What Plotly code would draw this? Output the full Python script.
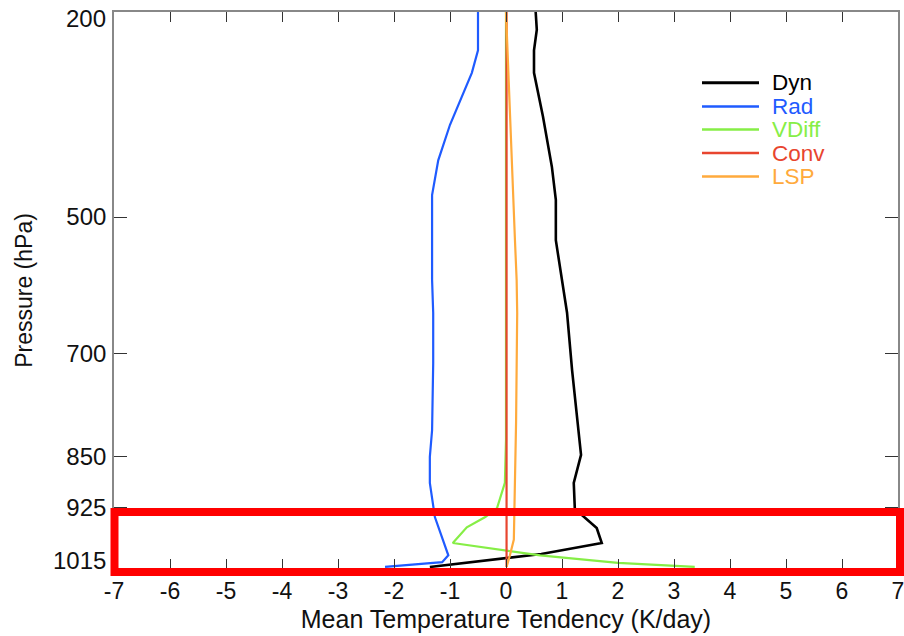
import plotly.graph_objects as go

# ---------------- data ----------------
dyn_p = [200, 226, 256, 289, 353, 427, 475, 534, 640, 724, 848, 889, 929, 937, 955, 977, 993, 1012]
dyn = [0.53, 0.55, 0.50, 0.50, 0.66, 0.82, 0.89, 0.89, 1.09, 1.18, 1.34, 1.21, 1.23, 1.37, 1.62, 1.71, 0.63, -1.36]

rad_p = [200, 256, 289, 365, 417, 468, 534, 592, 640, 714, 812, 851, 889, 939, 995, 1005, 1012]
rad = [-0.50, -0.50, -0.61, -1.00, -1.21, -1.32, -1.32, -1.32, -1.30, -1.30, -1.32, -1.36, -1.36, -1.27, -1.03, -1.14, -2.16]

vdiff_p = [200, 500, 826, 889, 926, 939, 954, 977, 995, 1006, 1012]
vdiff = [0.0, 0.0, 0.0, -0.02, -0.16, -0.37, -0.70, -0.95, 0.61, 2.00, 3.37]

conv_p = [200, 500, 800, 925, 1012]
conv = [0.01, 0.01, 0.01, 0.01, 0.01]

lsp_p = [200, 289, 400, 534, 592, 640, 800, 889, 972, 995, 1012]
lsp = [0.0, 0.04, 0.09, 0.16, 0.19, 0.20, 0.18, 0.16, 0.14, 0.07, 0.01]

series_names = ["Dyn", "Rad", "VDiff", "Conv", "LSP"]
series_colors = ["#000000", "#1f5bff", "#86ee46", "#e8452f", "#ffaa3c"]
series_widths = [2.6, 2.2, 2.2, 2.2, 2.2]

x_ticks = [-7, -6, -5, -4, -3, -2, -1, 0, 1, 2, 3, 4, 5, 6, 7]
y_ticks = [200, 500, 700, 850, 925, 1015]
y_ticktext = ["200", "500", "700", "850", "925", "1015"]

FONT = "Liberation Sans, Arial, Helvetica, sans-serif"

fig = go.Figure()
for name, xs, ps, col, w in zip(series_names,
                                [dyn, rad, vdiff, conv, lsp],
                                [dyn_p, rad_p, vdiff_p, conv_p, lsp_p],
                                series_colors, series_widths):
    fig.add_trace(go.Scatter(x=xs, y=ps, mode="lines", name=name,
                             line=dict(color=col, width=w), showlegend=False))

# manual legend (long swatches, coloured text)
W, H = 784.0, 557.0
def px(xp):
    return (xp - 114) / W
def py(yp):
    return (569 - yp) / H

legend_rows = [82.7, 106.5, 129.5, 153, 176.5]
for name, col, w, yy in zip(series_names, series_colors, series_widths, legend_rows):
    fig.add_shape(type="line", xref="paper", yref="paper",
                  x0=px(702), x1=px(759), y0=py(yy), y1=py(yy),
                  line=dict(color=col, width=w + 0.4))
    fig.add_annotation(xref="paper", yref="paper", x=px(770), y=py(yy),
                       text=name, showarrow=False, xanchor="left", yanchor="middle",
                       font=dict(family=FONT, size=22.5, color=col))

# red highlight box
fig.add_shape(type="rect", xref="paper", yref="paper",
              x0=px(114.5), x1=px(900), y0=py(572), y1=py(512),
              line=dict(color="#ff0000", width=8), layer="above")

# end labels of the pressure axis, nudged inward as in the reference
end_shift = {200: -6, 1015: 9}
for val, txt in zip(y_ticks, y_ticktext):
    if val in end_shift:
        fig.add_annotation(xref="paper", yref="y", x=0, y=val, yshift=end_shift[val], xshift=-6,
                           text=txt, showarrow=False, xanchor="right", yanchor="middle",
                           font=dict(family=FONT, size=24, color="#111111"))

fig.update_layout(
    width=904, height=636,
    margin=dict(l=114, r=6, t=12, b=67, autoexpand=False),
    paper_bgcolor="white", plot_bgcolor="white",
    font=dict(family=FONT, size=24, color="#111111"),
    xaxis=dict(range=[-7, 7], tickvals=x_ticks, ticktext=[str(v) for v in x_ticks],
               ticks="inside", ticklen=10, tickwidth=1.2, tickcolor="#333333",
               showline=True, linecolor="#888888", linewidth=1.6, mirror="ticks",
               showgrid=False, zeroline=False, automargin=False,
               tickfont=dict(family=FONT, size=23),
               ticklabelstandoff=1, ticklabeloverflow="allow",
               title=dict(text="Mean Temperature Tendency (K/day)",
                          font=dict(family=FONT, size=25), standoff=7)),
    yaxis=dict(range=[1015, 200], tickvals=y_ticks,
               ticktext=[("" if v in end_shift else t) for v, t in zip(y_ticks, y_ticktext)],
               ticks="inside", ticklen=13, tickwidth=1.2, tickcolor="#333333",
               showline=True, linecolor="#888888", linewidth=1.6, mirror="ticks",
               showgrid=False, zeroline=False, automargin=False,
               tickfont=dict(family=FONT, size=24),
               ticklabelstandoff=1, ticklabeloverflow="allow",
               title=dict(text="Pressure (hPa)", font=dict(family=FONT, size=23), standoff=27)),
)

fig.write_html("out.html", config={"displayModeBar": False},
               post_script="document.body.style.margin='0';document.body.style.overflow='hidden';")
